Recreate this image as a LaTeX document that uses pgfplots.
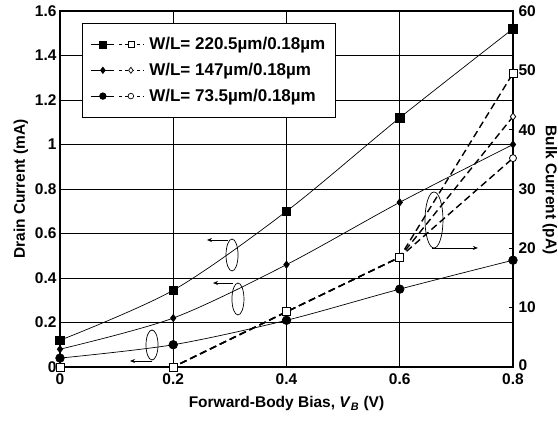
\documentclass[border=0pt]{standalone}
\usepackage{fontspec}
\setmainfont{Liberation Sans}
\usepackage{pgfplots}
\pgfplotsset{compat=1.18}
\usetikzlibrary{arrows.meta}
\newcommand{\fs}{\bfseries\fontsize{15.5}{17}\selectfont}
\newcommand{\fl}{\bfseries\fontsize{17}{19}\selectfont}
\pgfplotsset{
  base/.style={
    scale only axis, width=453pt, height=356pt,
    xmin=0, xmax=0.8,
    /pgf/number format/assume math mode=true,
    tick label style={font=\fs},
    label style={font=\fs},
    axis line style={black, line width=1.1pt},
    tick style={black, line width=0.8pt},
  },
  drain/.style={black, line width=0.7pt, smooth, mark options={solid, fill=black}},
  bulk/.style={black, line width=1.4pt, dash pattern=on 7pt off 4pt, mark options={solid, fill=white, line width=0.8pt}},
}
\begin{document}
\begin{tikzpicture}
\begin{axis}[base,
  ymin=0, ymax=1.6,
  xtick={0,0.2,0.4,0.6,0.8},
  ytick={0,0.2,0.4,0.6,0.8,1,1.2,1.4,1.6},
  xtick pos=bottom, ytick pos=left,
  major tick length=0pt,
  grid=major, major grid style={black, line width=0.8pt},
  xticklabel style={yshift=-3pt},
  xlabel={Forward-Body Bias, \textit{V}\textsubscript{\textit{B}} (V)},
  xlabel style={yshift=-5pt},
  ylabel={Drain Current (mA)},
  legend style={at={(0.0486,0.966)}, anchor=north west, draw=black, line width=0.9pt,
    font=\fl, inner xsep=8pt, inner ysep=12pt, row sep=8pt},
  legend cell align=left,
]
\addlegendimage{legend image code/.code={
  \draw[black, line width=0.8pt] (0pt,0pt) -- (23pt,0pt);
  \draw[black, mark=square*, mark size=3.5pt, fill=black] plot coordinates {(12pt,0pt)};
  \draw[black, line width=0.9pt, dash pattern=on 3.5pt off 2.5pt] (28pt,0pt) -- (53pt,0pt);
  \draw[black, line width=0.7pt, mark=square*, mark size=3pt, fill=white] plot coordinates {(40pt,0pt)};
  \path (56pt,0pt);
}}
\addlegendentry{W/L= 220.5µm/0.18µm}
\addlegendimage{legend image code/.code={
  \draw[black, line width=0.8pt] (0pt,0pt) -- (23pt,0pt);
  \draw[black, mark=diamond*, mark size=3pt, fill=black] plot coordinates {(12pt,0pt)};
  \draw[black, line width=0.9pt, dash pattern=on 3.5pt off 2.5pt] (28pt,0pt) -- (53pt,0pt);
  \draw[black, line width=0.7pt, mark=diamond*, mark size=3pt, fill=white] plot coordinates {(40pt,0pt)};
  \path (56pt,0pt);
}}
\addlegendentry{W/L= 147µm/0.18µm}
\addlegendimage{legend image code/.code={
  \draw[black, line width=0.8pt] (0pt,0pt) -- (23pt,0pt);
  \draw[black, mark=*, mark size=3.2pt, fill=black] plot coordinates {(12pt,0pt)};
  \draw[black, line width=0.9pt, dash pattern=on 3.5pt off 2.5pt] (28pt,0pt) -- (53pt,0pt);
  \draw[black, line width=0.7pt, mark=*, mark size=2.8pt, fill=white] plot coordinates {(40pt,0pt)};
  \path (56pt,0pt);
}}
\addlegendentry{W/L= 73.5µm/0.18µm}
% drain currents
\addplot[drain, mark=square*, mark size=4.3pt, forget plot] coordinates {
  (0,0.12) (0.2,0.345) (0.4,0.70) (0.6,1.12) (0.8,1.52)};
\addplot[drain, mark=diamond*, mark size=3.6pt, forget plot] coordinates {
  (0,0.08) (0.2,0.22) (0.4,0.46) (0.6,0.74) (0.8,1.00)};
\addplot[drain, mark=*, mark size=4.3pt, forget plot] coordinates {
  (0,0.04) (0.2,0.10) (0.4,0.21) (0.6,0.35) (0.8,0.48)};
% annotations
\draw[line width=0.7pt] (axis cs:0.3038,0.5034) ellipse [x radius=6pt, y radius=16pt];
\draw[line width=0.7pt, -{Stealth[length=5pt,width=4pt]}] (axis cs:0.2967,0.5708) -- (axis cs:0.2596,0.5708);
\draw[line width=0.7pt] (axis cs:0.3143,0.3056) ellipse [x radius=6pt, y radius=16pt];
\draw[line width=0.7pt, -{Stealth[length=5pt,width=4pt]}] (axis cs:0.3055,0.3775) -- (axis cs:0.2702,0.3775);
\draw[line width=0.7pt] (axis cs:0.1625,0.0989) ellipse [x radius=6pt, y radius=15pt];
\draw[line width=0.7pt, -{Stealth[length=5pt,width=4pt]}] (axis cs:0.1625,0.027) -- (axis cs:0.1236,0.027);
\draw[line width=0.7pt] (axis cs:0.6605,0.6607) ellipse [x radius=9pt, y radius=28pt];
\draw[line width=0.7pt, -{Stealth[length=5pt,width=4pt]}] (axis cs:0.657,0.535) -- (axis cs:0.738,0.535);
\end{axis}
\begin{axis}[base,
  ymin=0, ymax=60,
  axis x line=none, axis y line*=right,
  ytick={0,10,20,30,40,50,60},
  yticklabels={\raisebox{4pt}{0},10,20,30,40,50,60},
  tick align=inside, major tick length=4pt,
  yticklabel style={xshift=2pt},
  ylabel={Bulk Current (pA)},
  ylabel style={rotate=180, xshift=1pt},
]
\addplot[bulk, mark=*, mark size=3.5pt] coordinates {
  (0,0) (0.2,0) (0.4,9.3) (0.6,18.5) (0.8,35.2)};
\addplot[bulk, mark=diamond*, mark size=3.6pt] coordinates {
  (0,0) (0.2,0) (0.4,9.3) (0.6,18.5) (0.8,42.2)};
\addplot[bulk, mark=square*, mark size=4pt] coordinates {
  (0,0) (0.2,0) (0.4,9.3) (0.6,18.5) (0.8,49.5)};
\end{axis}
\pgfresetboundingbox
\path (-60pt,-56pt) rectangle (498pt,367pt);
\end{tikzpicture}
\end{document}
